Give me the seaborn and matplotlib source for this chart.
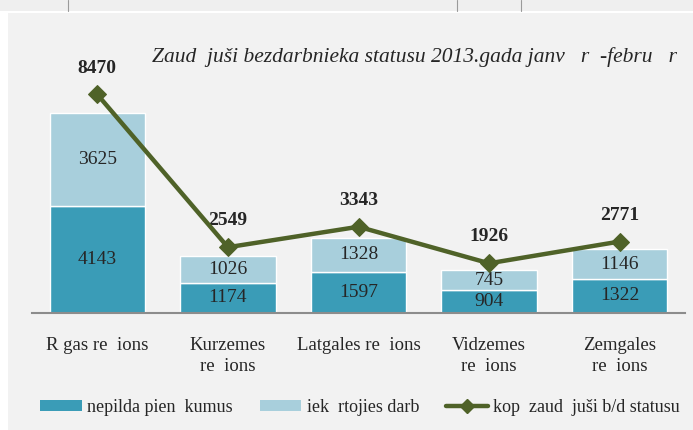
import numpy as np
import pandas as pd
import matplotlib
matplotlib.use("Agg")
import matplotlib.pyplot as plt
from matplotlib.patches import Rectangle, Patch
from matplotlib.lines import Line2D
import seaborn as sns

regions = ["R gas re  ions", "Kurzemes\nre  ions", "Latgales re  ions",
           "Vidzemes\nre  ions", "Zemgales\nre  ions"]
nepilda = [4143, 1174, 1597, 904, 1322]      # nepilda pienākumus
iekartojies = [3625, 1026, 1328, 745, 1146]  # iekārtojies darbā
kopa = [8470, 2549, 3343, 1926, 2771]        # kopā zaudējuši b/d statusu

title_txt = "Zaud  juši bezdarbnieka statusu 2013.gada janv   r  -febru   r"
leg_labels = ["nepilda pien  kumus", "iek  rtojies darb", "kop  zaud  juši b/d statusu"]

c_dark = "#3A9CB7"
c_light = "#A8CFDC"
c_line = "#4F6228"
bg = "#F2F2F2"

sns.set_theme(style="white")
plt.rcParams["font.family"] = ["Liberation Serif", "DejaVu Serif"]

df = pd.DataFrame({"reg": regions, "nepilda": nepilda, "iek": iekartojies, "kopa": kopa})
df["pos"] = np.arange(len(df))

fig = plt.figure(figsize=(6.93, 4.3), dpi=100)
fig.patch.set_facecolor("white")
# top strip and panel background
fig.add_artist(Rectangle((0, 1 - 11 / 430), 1, 11 / 430, transform=fig.transFigure,
                         facecolor="#EFEFEF", edgecolor="none", zorder=0))
for xv in [68, 457, 521]:
    fig.add_artist(Line2D([xv / 693, xv / 693], [1 - 11 / 430, 1], transform=fig.transFigure,
                          color="#9A9A9A", lw=0.8))
fig.add_artist(Rectangle((8 / 693, 0), 1, 1 - 13 / 430, transform=fig.transFigure,
                         facecolor=bg, edgecolor="none", zorder=0))

ax = fig.add_axes([32 / 693, 1 - 313 / 430, 653 / 693, 258 / 430])
ax.set_facecolor("none")

w = 0.73
sns.barplot(data=df, x="pos", y="nepilda", color=c_dark, width=w, ax=ax,
            saturation=1, order=list(range(5)), native_scale=True)
sns.barplot(data=df, x="pos", y="iek", bottom=df["nepilda"], color=c_light, width=w, ax=ax,
            saturation=1, order=list(range(5)), native_scale=True)
sns.lineplot(data=df, x="pos", y="kopa", color=c_line, lw=3.2, marker="D",
             markersize=9, markeredgecolor=c_line, ax=ax, zorder=5)

fs = 14
for i, row in df.iterrows():
    ax.text(i, row["nepilda"] / 2, f"{row['nepilda']}", ha="center", va="center", fontsize=fs)
    ax.text(i, row["nepilda"] + row["iek"] / 2, f"{row['iek']}", ha="center", va="center", fontsize=fs)
    ax.annotate(f"{row['kopa']}", (i, row["kopa"]), xytext=(0, 19), textcoords="offset points",
                ha="center", va="center", fontsize=fs, fontweight="bold")

ax.set_xlim(-0.5, 4.5)
ax.set_ylim(0, 10000)
ax.set_xticks(range(5))
ax.set_xticklabels(regions, fontsize=13.5, linespacing=1.3)
ax.set_xticks(np.arange(-0.5, 5, 1), minor=True)
ax.tick_params(axis="x", which="major", length=0, pad=17)
ax.tick_params(axis="x", which="minor", length=5, width=1.2, color="#8C8C8C", direction="out")
ax.set_yticks([])
ax.set_xlabel("")
ax.set_ylabel("")
for s in ["top", "left", "right"]:
    ax.spines[s].set_visible(False)
ax.spines["bottom"].set_color("#8C8C8C")
ax.spines["bottom"].set_linewidth(1.5)

fig.text(415 / 693, 1 - 57 / 430, title_txt, ha="center", va="center", fontsize=15.5,
         style="italic")

handles = [Patch(facecolor=c_dark, edgecolor="none"),
           Patch(facecolor=c_light, edgecolor="none"),
           Line2D([], [], color=c_line, lw=3.2, marker="D", markersize=7)]
fig.legend(handles, leg_labels, loc="center left", bbox_to_anchor=(40 / 693, 1 - 407 / 430),
           ncol=3, frameon=False, fontsize=13, handlelength=2.3, handleheight=0.55,
           handletextpad=0.3, columnspacing=1.5, borderpad=0, borderaxespad=0)

fig.savefig("out.png", dpi=100)
